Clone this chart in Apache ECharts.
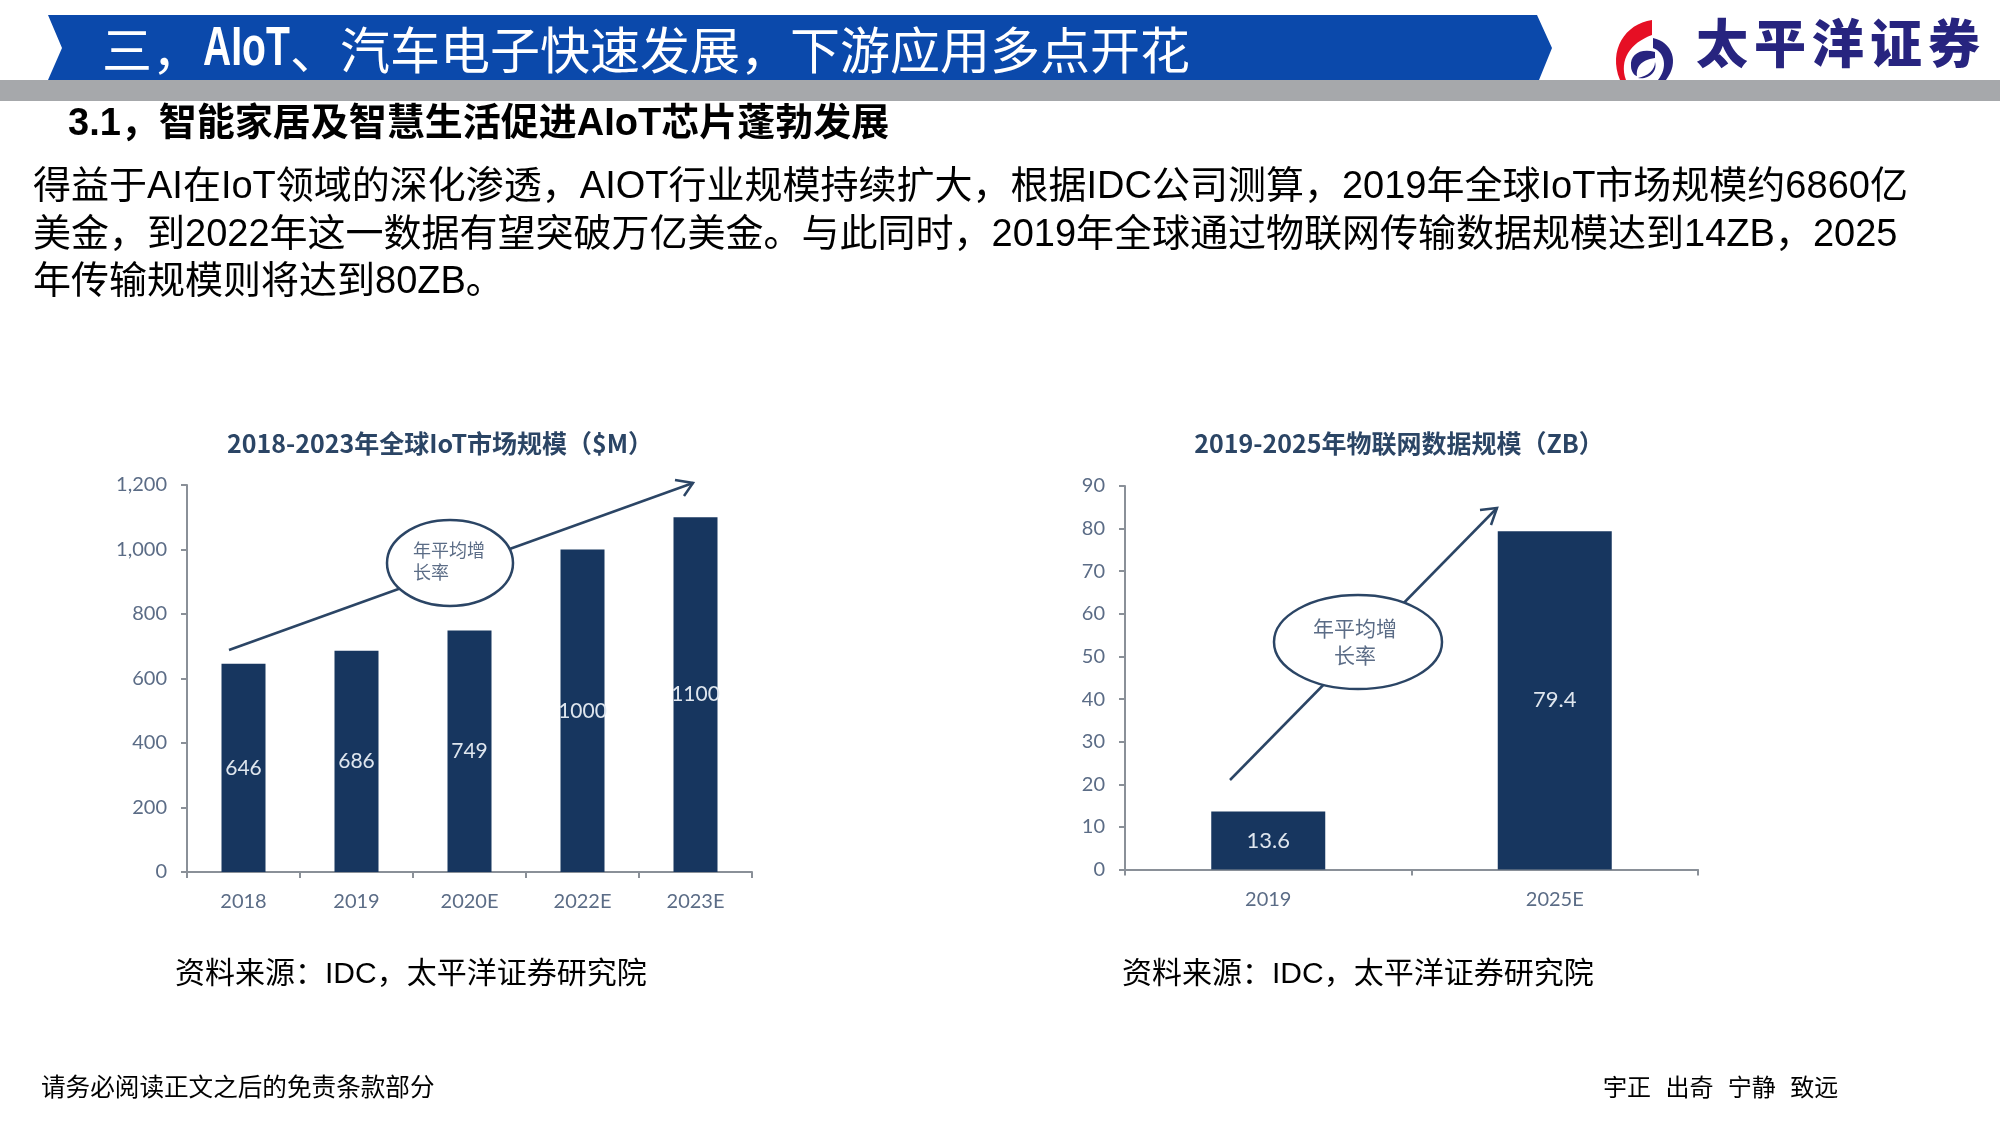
<!DOCTYPE html>
<html>
<head>
<meta charset="utf-8">
<title>AIoT</title>
<script src="https://cdn.jsdelivr.net/npm/echarts@6/dist/echarts.min.js"></script>
<style>
    html, body { margin: 0; padding: 0; background: #fff; }
    #main { width: 2000px; height: 1125px; }
</style>
</head>
<body>
<div id="main"></div>
<script>
// 左图：全球IoT市场规模
const marketTitle = '2018-2023年全球IoT市场规模（$M）';
const marketYears = ['2018', '2019', '2020E', '2022E', '2023E'];
const marketValues = [646, 686, 749, 1000, 1100];

// 右图：物联网数据规模
const dataTitle = '2019-2025年物联网数据规模（ZB）';
const dataYears = ['2019', '2025E'];
const dataValues = [13.6, 79.4];

// 页面文字
const bodyLines = [
    '得益于AI在IoT领域的深化渗透，AIOT行业规模持续扩大，根据IDC公司测算，2019年全球IoT市场规模约6860亿',
    '美金，到2022年这一数据有望突破万亿美金。与此同时，2019年全球通过物联网传输数据规模达到14ZB，2025',
    '年传输规模则将达到80ZB。'
];
const sourceText = '资料来源：IDC，太平洋证券研究院';
const logoChars = ['太', '平', '洋', '证', '券'];
const mottoWords = ['宇正', '出奇', '宁静', '致远'];

const FONT = '"Liberation Sans", "Noto Sans CJK SC", sans-serif';
const CJK = '"Noto Sans CJK SC", sans-serif';
const LABEL_FONT = 'Lato, "Noto Sans CJK SC", sans-serif';
const BAR = '#17365f';
const AXIS = '#8a9098';
const LABEL = '#5b6c86';
const INK = '#2b4565';

// logo 的几段弧形
const logoPaths = {
    logoRed: 'M1652 20 C1625 24 1608 50 1620 80 L1626 80 C1619 60 1630 43 1652 35 Z',
    logoArc: 'M1653 38 C1672 42 1680 62 1666 80 L1658 80 C1668 68 1665 52 1653 48 Z',
    logoTop: 'M1655 52 C1640 48 1630 55 1631 66 C1631 72 1635 76 1637 76 C1636 68 1640 60 1655 58 Z',
    logoLow: 'M1655 62 C1655 70 1648 76 1638 78 C1648 80 1658 72 1655 62 Z'
};
Object.keys(logoPaths).forEach(name => {
    echarts.graphic.registerShape(name, echarts.graphic.extendPath(logoPaths[name], {}));
});

const txt = (x, y, text, size, opt = {}) => ({
    type: 'text',
    x: x,
    y: y,
    scaleX: opt.scaleX || 1,
    z: 20,
    style: {
        text: text,
        fontSize: size,
        fontFamily: opt.family || FONT,
        fontWeight: opt.weight || 'normal',
        fill: opt.fill || '#000',
        align: opt.align || 'left',
        verticalAlign: 'middle'
    }
});

const shape = (type, shapeOpt, style, z = 5) => ({ type: type, shape: shapeOpt, style: style, z: z });

// 增长箭头
const arrow = (x1, y1, x2, y2, head) => [
    shape('line', { x1, y1, x2, y2 }, { stroke: INK, lineWidth: 2.5 }, 6),
    shape('polyline', { points: head }, { stroke: INK, lineWidth: 2.5, fill: 'none' }, 6)
];

// 椭圆标注
const bubble = (cx, cy, rx, ry) =>
    shape('ellipse', { cx, cy, rx, ry }, { fill: '#fff', stroke: INK, lineWidth: 2.5 }, 7);

const graphics = [
    // 顶部标题条
    shape('polygon', { points: [[48, 15], [1537, 15], [1552, 48], [1539, 80], [48, 80], [62, 48]] }, { fill: '#0b49ab' }),
    txt(102, 50, '三，', 50, { family: CJK, fill: '#fff' }),
    txt(203, 50, 'AIoT', 55, { weight: 'bold', fill: '#fff', scaleX: 0.71 }),
    txt(290, 50, '、汽车电子快速发展，下游应用多点开花', 50, { family: CJK, fill: '#fff' }),

    // logo
    shape('logoRed', {}, { fill: '#e60f24' }),
    shape('logoArc', {}, { fill: '#27247f' }),
    shape('logoTop', {}, { fill: '#27247f' }),
    shape('logoLow', {}, { fill: '#27247f' }),
    ...logoChars.map((c, i) => txt(1696 + i * 58, 43, c, 52, { family: CJK, weight: 900, fill: '#27247f' })),

    // 灰条
    shape('rect', { x: 0, y: 80, width: 2000, height: 21 }, { fill: '#a6a8ab' }, 8),

    // 小标题和正文
    txt(68, 125, '3.1，智能家居及智慧生活促进AIoT芯片蓬勃发展', 38, { weight: 'bold' }),
    ...bodyLines.map((line, i) => txt(33, 188 + i * 47.5, line, 38)),

    // 左图标注
    ...arrow(229, 650, 693, 483, [[675, 480], [693, 483], [684, 496]]),
    bubble(450, 563, 63, 43),
    txt(413, 550, '年平均增', 18, { family: CJK, fill: LABEL }),
    txt(413, 572, '长率', 18, { family: CJK, fill: LABEL }),

    // 右图标注
    ...arrow(1230, 780, 1497, 508, [[1480, 510], [1497, 508], [1491, 525]]),
    bubble(1358, 642, 84, 47),
    txt(1355, 628, '年平均增', 21, { family: CJK, fill: LABEL, align: 'center' }),
    txt(1355, 655, '长率', 21, { family: CJK, fill: LABEL, align: 'center' }),

    // 来源和页脚
    txt(175, 975, sourceText, 30),
    txt(1122, 975, sourceText, 30),
    txt(41, 1087, '请务必阅读正文之后的免责条款部分', 24.6, { family: CJK }),
    ...mottoWords.map((w, i) => txt(1603 + i * 62.4, 1087, w, 24, { family: CJK }))
];

const yAxisOf = (gridIndex, max, interval) => ({
    type: 'value',
    gridIndex: gridIndex,
    min: 0,
    max: max,
    interval: interval,
    splitLine: { show: false },
    axisLine: { show: true, lineStyle: { color: AXIS, width: 2 } },
    axisTick: { show: true, length: 6, lineStyle: { color: AXIS, width: 2 } },
    axisLabel: { color: LABEL, fontFamily: LABEL_FONT, fontSize: 20, margin: 20 }
});

const xAxisOf = (gridIndex, data) => ({
    type: 'category',
    gridIndex: gridIndex,
    data: data,
    axisLine: { lineStyle: { color: AXIS, width: 2 } },
    axisTick: { show: true, alignWithLabel: false, length: 6, lineStyle: { color: AXIS, width: 2 } },
    axisLabel: { color: LABEL, fontFamily: LABEL_FONT, fontSize: 20, margin: 20 }
});

const barsOf = (index, values, width, size) => ({
    type: 'bar',
    xAxisIndex: index,
    yAxisIndex: index,
    data: values,
    barWidth: width,
    itemStyle: { color: BAR },
    label: { show: true, position: 'inside', color: '#dfe6ee', fontFamily: LABEL_FONT, fontSize: size }
});

const chart = echarts.init(document.getElementById('main'));
chart.setOption({
    animation: false,
    backgroundColor: '#fff',
    title: [
        {
            text: marketTitle,
            left: 435,
            top: 426,
            textAlign: 'center',
            textStyle: { color: INK, fontFamily: CJK, fontSize: 25, fontWeight: 'bold' }
        },
        {
            text: dataTitle,
            left: 1394,
            top: 426,
            textAlign: 'center',
            textStyle: { color: INK, fontFamily: CJK, fontSize: 25, fontWeight: 'bold' }
        }
    ],
    grid: [
        { left: 187, top: 485, width: 565, height: 387 },
        { left: 1125, top: 486, width: 573, height: 383.5 }
    ],
    xAxis: [xAxisOf(0, marketYears), xAxisOf(1, dataYears)],
    yAxis: [yAxisOf(0, 1200, 200), yAxisOf(1, 90, 10)],
    series: [barsOf(0, marketValues, 44, 21), barsOf(1, dataValues, 114, 22)],
    graphic: graphics
});
</script>
</body>
</html>
